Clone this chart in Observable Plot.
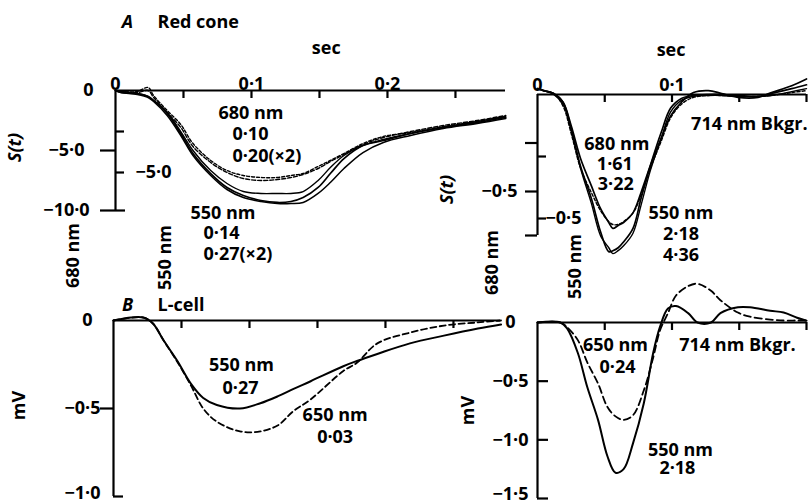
<!DOCTYPE html>
<html><head><meta charset="utf-8">
<script src="https://cdn.jsdelivr.net/npm/d3@7"></script>
<script src="https://cdn.jsdelivr.net/npm/@observablehq/plot@0.6"></script>
<style>
html,body{margin:0;padding:0;background:#fff;}
#fig{position:relative;width:810px;height:504px;overflow:hidden;background:#fff;}
#fig svg{position:absolute;left:0;top:0;overflow:visible;}
</style></head><body><div id="fig"></div>
<script>
// ---------- A: Red cone, left (S(t), sec) ----------
const tlTime = [0, 0.004, 0.016, 0.024, 0.028, 0.038, 0.048, 0.057, 0.070, 0.082, 0.094, 0.107, 0.119, 0.129, 0.138, 0.149, 0.158, 0.168, 0.182, 0.197, 0.217, 0.241, 0.266, 0.287];
const tl550a = [0, -0.17, -0.25, -0.5, -0.83, -1.92, -3.58, -5.25, -6.92, -8.08, -8.75, -9.17, -9.33, -9.25, -8.92, -8.08, -6.92, -5.67, -4.58, -4.17, -3.58, -3.08, -2.67, -2.25];
const tl550b = [0, -0.17, -0.33, -0.58, -0.92, -2.08, -3.75, -5.42, -7.08, -8.25, -8.92, -9.25, -9.42, -9.42, -9.33, -8.58, -7.67, -6.5, -5.17, -4.33, -3.75, -3.17, -2.75, -2.33];
const tl550c = [0, -0.08, -0.25, -0.5, -0.83, -1.83, -3.42, -5.0, -6.67, -7.75, -8.42, -8.58, -8.58, -8.58, -8.42, -7.5, -6.42, -5.42, -4.58, -4.08, -3.58, -3.08, -2.58, -2.17];
const tl680a = [0, -0.08, -0.08, 0.25, -0.42, -1.67, -2.83, -4.42, -5.83, -6.67, -7.08, -7.25, -7.25, -7.08, -6.92, -6.33, -5.83, -5.25, -4.42, -3.83, -3.5, -3.0, -2.58, -2.17];
const tl680b = [0, -0.08, -0.17, 0, -0.58, -1.83, -3.08, -4.67, -6.0, -6.83, -7.33, -7.5, -7.42, -7.25, -7.0, -6.5, -5.92, -5.33, -4.5, -3.92, -3.42, -2.92, -2.5, -2.08];
const tlXTicks = [0.05, 0.1, 0.15, 0.2, 0.25];
const tlXLabelVals = [0, 0.1, 0.2];
const tlXLabelText = ["0", "0·1", "0·2"];
const tlYTicks = [-5, -10];
const tlYInnerTicks = [-2.5, -5];

// ---------- A: Red cone, right (714 nm background) ----------
const trTime = [0, 0.0045, 0.012, 0.019, 0.025, 0.032, 0.040, 0.047, 0.053, 0.056, 0.060, 0.064, 0.071, 0.077, 0.084, 0.092, 0.099, 0.107, 0.116, 0.127, 0.137, 0.149, 0.164, 0.174, 0.189, 0.2];
const tr680a = [0.03, 0.02, 0.005, -0.04, -0.16, -0.33, -0.47, -0.59, -0.66, -0.69, -0.675, -0.66, -0.61, -0.505, -0.365, -0.225, -0.11, -0.04, 0.01, 0.02, 0.005, -0.015, -0.015, 0.01, 0.045, 0.08];
const tr680b = [0.03, 0.02, 0.005, -0.06, -0.2, -0.38, -0.505, -0.6, -0.655, -0.67, -0.67, -0.655, -0.61, -0.52, -0.38, -0.24, -0.12, -0.05, -0.015, -0.005, -0.005, -0.01, -0.01, -0.005, 0.01, 0.02];
const tr550a = [0.03, 0.02, 0.005, -0.04, -0.175, -0.37, -0.535, -0.71, -0.81, -0.805, -0.79, -0.76, -0.69, -0.535, -0.365, -0.195, -0.07, -0.02, -0.005, 0, 0, -0.005, -0.01, 0.005, 0.03, 0.05];
const tr550b = [0.03, 0.02, 0, -0.05, -0.185, -0.38, -0.56, -0.73, -0.79, -0.82, -0.805, -0.78, -0.715, -0.57, -0.39, -0.225, -0.09, -0.03, -0.01, -0.005, -0.005, -0.01, -0.01, -0.005, 0.015, 0.03];
const trXTicks = [0.05, 0.1, 0.15, 0.2];
const trXLabelVals = [0, 0.1];
const trXLabelText = ["0", "0·1"];
const trYTicks = [-0.25, -0.5, -0.7268];
const trYInnerTicks = [-0.25, -0.5];

// ---------- B: L-cell, left ----------
const blTime = [0, 0.022, 0.029, 0.037, 0.047, 0.057, 0.066, 0.076, 0.093, 0.108, 0.121, 0.132, 0.145, 0.169, 0.179, 0.194, 0.218, 0.243, 0.268, 0.285];
const bl550 = [0, 0.017, -0.017, -0.115, -0.23, -0.36, -0.44, -0.48, -0.5, -0.47, -0.43, -0.39, -0.345, -0.26, -0.23, -0.19, -0.13, -0.086, -0.046, -0.023];
const bl650 = [0, 0.017, -0.017, -0.115, -0.236, -0.37, -0.5, -0.575, -0.63, -0.63, -0.595, -0.517, -0.448, -0.287, -0.24, -0.13, -0.069, -0.029, -0.011, 0];
const blXTicks = [0.05, 0.1, 0.15, 0.2, 0.25];
const blYTicks = [-0.5];

// ---------- B: L-cell, right (714 nm background) ----------
const brTime = [0, 0.017, 0.022, 0.030, 0.037, 0.045, 0.052, 0.058, 0.064, 0.071, 0.079, 0.086, 0.091, 0.097, 0.103, 0.112, 0.119, 0.129, 0.136, 0.149, 0.158, 0.173, 0.183, 0.193, 0.2];
const br550 = [0, 0, -0.05, -0.26, -0.55, -0.83, -1.14, -1.28, -1.25, -1.03, -0.69, -0.26, -0.04, 0.12, 0.14, 0.08, 0, 0, 0.08, 0.13, 0.13, 0.10, 0.085, 0.04, 0.015];
const br650 = [0, 0, -0.04, -0.15, -0.34, -0.52, -0.72, -0.80, -0.83, -0.79, -0.58, -0.30, -0.07, 0.08, 0.23, 0.31, 0.33, 0.27, 0.19, 0.085, 0.05, 0.025, 0.017, 0.017, 0.017];
const brXTicks = [0.05, 0.1, 0.15, 0.2];
const brYTicks = [-0.5, -1.0, -1.5];

// ---------- helpers ----------
const FONT = "'Open Sans', sans-serif";
const rows = (times, vals) => times.map((t, i) => ({t, v: vals[i]}));
const txt = (data, o) => Plot.text(data, {fill: "black", fontFamily: FONT, fontSize: 18, fontWeight: 700, ...o});
const note = (label, t, v, o = {}) => txt([label], {x: t, y: v, text: d => d, ...o});
const solid = (times, vals, w = 1.7) => Plot.line(rows(times, vals), {x: "t", y: "v", curve: "catmull-rom", stroke: "black", strokeWidth: w});
const dashed = (times, vals, dash, w = 1.5) => Plot.line(rows(times, vals), {x: "t", y: "v", curve: "catmull-rom", stroke: "black", strokeWidth: w, strokeDasharray: dash});
const AX = 2.2;
// tick marks as short rules; lengths are given in the panel's own units
const xTicks = (vals, len) => Plot.ruleX(vals, {x: d => d, y1: 0, y2: -len, stroke: "black", strokeWidth: AX});
const yTicks = (vals, len) => Plot.ruleY(vals, {y: d => d, x1: 0, x2: len, stroke: "black", strokeWidth: AX});

function panel(m, xd, yd, marks) {
  return Plot.plot({
    width: 810, height: 504,
    marginLeft: m[0], marginRight: m[1], marginTop: m[2], marginBottom: m[3],
    x: {domain: xd, axis: null},
    y: {domain: yd, axis: null},
    style: {background: "transparent", overflow: "visible", fontFamily: FONT},
    marks
  });
}

const fig = document.getElementById("fig");

// ===== Panel A left: 1360 px per sec, 12 px per unit =====
fig.append(panel([115, 305, 90, 294], [0, 0.2868], [-10, 0], [
  Plot.ruleY([0], {strokeWidth: AX}),
  Plot.ruleX([0], {strokeWidth: AX}),
  xTicks(tlXTicks, 8 / 12),
  txt(tlXLabelVals, {x: d => d, text: (d, i) => tlXLabelText[i], frameAnchor: "top", dy: -13}),
  yTicks(tlYTicks, -15 / 1360),
  yTicks([-10], 10 / 1360),
  txt([0], {y: d => d, text: () => "0", frameAnchor: "left", textAnchor: "end", dx: -22}),
  txt([-5, -10], {y: d => d, text: d => d === -5 ? "−5·0" : "−10·0", frameAnchor: "left", textAnchor: "middle", dx: -49}),
  dashed(tlTime, tl680a, "3,2", 1.4),
  dashed(tlTime, tl680b, "4,2", 1.4),
  solid(tlTime, tl550a),
  solid(tlTime, tl550b, 1.5),
  solid(tlTime, tl550c, 1.4),
  note("A", 0.0088, 5.67, {fontStyle: "italic"}),
  note("Red cone", 0.0309, 5.67, {textAnchor: "start"}),
  note("sec", 0.155, 3.5),
  note("S(t)", -0.0735, -4.75, {rotate: -90, fontStyle: "italic"}),
  note("680 nm", 0.0757, -1.92, {textAnchor: "start"}),
  note("0·10", 0.086, -3.67, {textAnchor: "start"}),
  note("0·20(×2)", 0.086, -5.5, {textAnchor: "start"}),
  note("550 nm", 0.0551, -10.25, {textAnchor: "start"}),
  note("0·14", 0.0647, -11.92, {textAnchor: "start"}),
  note("0·27(×2)", 0.0647, -13.67, {textAnchor: "start"}),
  note("680 nm", -0.0309, -13.75, {rotate: -90}),
  note("550 nm", 0.0368, -13.92, {rotate: -90})
]));
// inner scale of panel A left (16.4 px per unit)
fig.append(panel([115, 305, 90, 294], [0, 0.2868], [-7.317, 0], [
  yTicks(tlYInnerTicks, 9 / 1360),
  txt([-5], {y: d => d, text: () => "−5·0", frameAnchor: "left", textAnchor: "start", dx: 20})
]));

// ===== Panel A right: 1345 px per sec, 194 px per unit =====
fig.append(panel([537, 4, 94, 269], [0, 0.2], [-0.7268, 0], [
  Plot.ruleY([0], {strokeWidth: AX}),
  Plot.ruleX([0], {strokeWidth: AX}),
  xTicks(trXTicks, 8 / 194),
  txt(trXLabelVals, {x: d => d, text: (d, i) => trXLabelText[i], frameAnchor: "top", dy: -16}),
  yTicks(trYTicks, -12 / 1345),
  txt([-0.5], {y: d => d, text: () => "−0·5", frameAnchor: "left", textAnchor: "end", dx: -20}),
  dashed(trTime, tr680b, "3,2", 1.4),
  solid(trTime, tr680a),
  solid(trTime, tr550a),
  solid(trTime, tr550b, 1.4),
  note("sec", 0.0993, 0.227),
  note("S(t)", -0.0672, -0.49, {rotate: -90, fontStyle: "italic"}),
  note("680 nm", 0.059, -0.258),
  note("1·61", 0.0575, -0.361),
  note("3·22", 0.0582, -0.464),
  note("714 nm Bkgr.", 0.1575, -0.155),
  note("550 nm", 0.1067, -0.613),
  note("2·18", 0.1067, -0.722),
  note("4·36", 0.1067, -0.83),
  note("680 nm", -0.0336, -0.866, {rotate: -90}),
  note("550 nm", 0.0284, -0.887, {rotate: -90})
]));
// inner scale of panel A right (248 px per unit)
fig.append(panel([537, 4, 94, 269], [0, 0.2], [-0.5685, 0], [
  yTicks(trYInnerTicks, 9 / 1345),
  txt([-0.5], {y: d => d, text: () => "−0·5", frameAnchor: "left", textAnchor: "start", dx: 8})
]));

// ===== Panel B left: 1360 px per sec, 176 px per mV =====
fig.append(panel([113, 310, 320, 8], [0, 0.2846], [-1, 0], [
  Plot.ruleY([0], {strokeWidth: AX}),
  Plot.ruleX([0], {strokeWidth: AX}),
  xTicks(blXTicks, 8 / 176),
  yTicks(blYTicks, -13 / 1360),
  yTicks([-1], 10 / 1360),
  txt([0], {y: d => d, text: () => "0", frameAnchor: "left", textAnchor: "end", dx: -21}),
  txt([-0.5], {y: d => d, text: () => "−0·5", frameAnchor: "left", textAnchor: "end", dx: -13}),
  txt([-1], {y: d => d, text: () => "−1·0", frameAnchor: "left", textAnchor: "end", dx: -13, dy: -3}),
  dashed(blTime, bl650, "6,3.5", 1.8),
  solid(blTime, bl550, 2),
  note("B", 0.0103, 0.085, {fontStyle: "italic"}),
  note("L-cell", 0.0324, 0.085, {textAnchor: "start"}),
  note("mV", -0.0691, -0.483, {rotate: -90}),
  note("550 nm", 0.0941, -0.256),
  note("0·27", 0.0934, -0.386),
  note("650 nm", 0.163, -0.54),
  note("0·03", 0.163, -0.665)
]));

// ===== Panel B right: 1345 px per sec, 117.3 px per mV =====
fig.append(panel([537, 4, 322, 6], [0, 0.2], [-1.5, 0], [
  Plot.ruleY([0], {strokeWidth: AX}),
  Plot.ruleX([0], {strokeWidth: AX}),
  xTicks(brXTicks, 8 / 117.3),
  yTicks(brYTicks, 11 / 1345),
  txt([0], {y: d => d, text: () => "0", frameAnchor: "left", textAnchor: "end", dx: -22}),
  txt([-0.5], {y: d => d, text: () => "−0·5", frameAnchor: "left", textAnchor: "end", dx: -9}),
  txt([-1.0], {y: d => d, text: () => "−1·0", frameAnchor: "left", textAnchor: "end", dx: -9}),
  txt([-1.5], {y: d => d, text: () => "−1·5", frameAnchor: "left", textAnchor: "end", dx: -9, dy: -4}),
  dashed(brTime, br650, "7,4", 1.8),
  solid(brTime, br550, 2),
  note("mV", -0.0513, -0.75, {rotate: -90}),
  note("650 nm", 0.058, -0.196),
  note("0·24", 0.0595, -0.384),
  note("714 nm Bkgr.", 0.1487, -0.196),
  note("550 nm", 0.1063, -1.09),
  note("2·18", 0.104, -1.245)
]));
</script></body></html>
